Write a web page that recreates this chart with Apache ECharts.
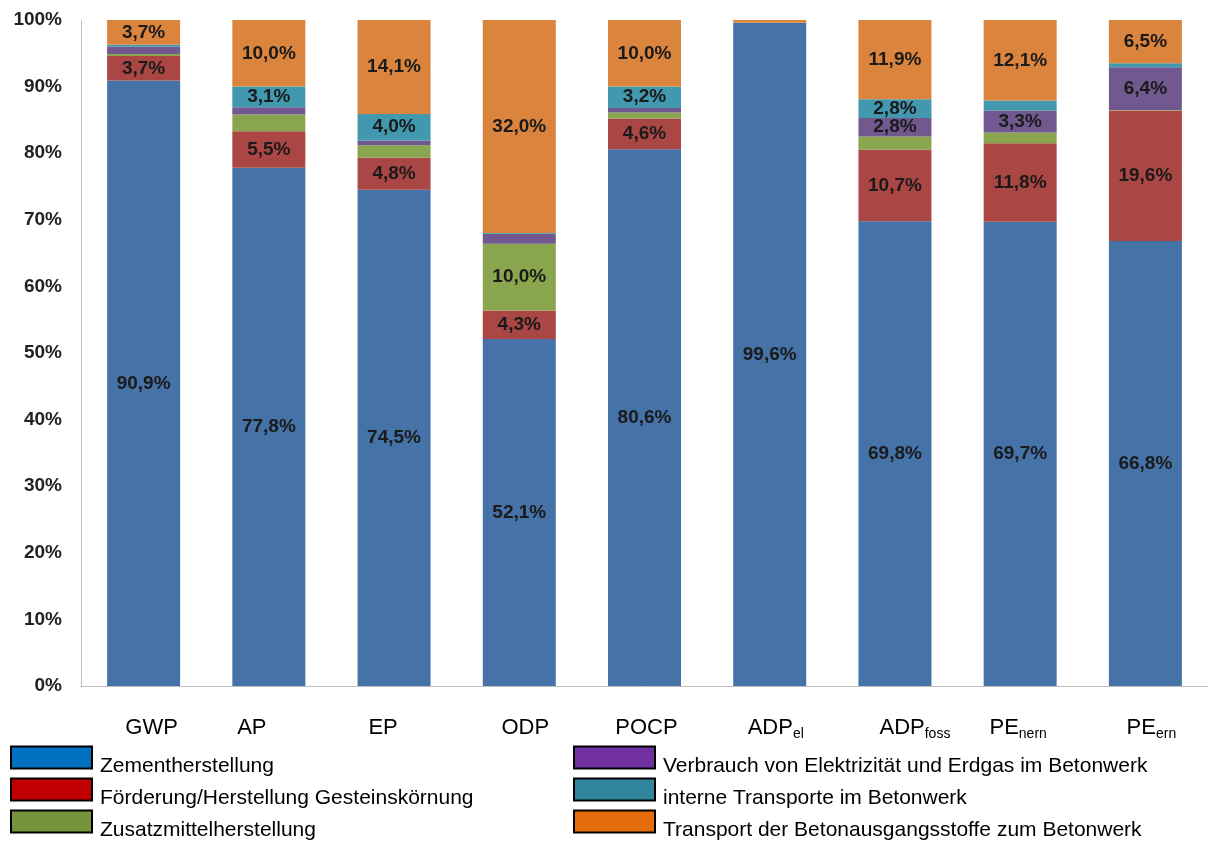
<!DOCTYPE html>
<html>
<head>
<meta charset="utf-8">
<script src="https://cdn.jsdelivr.net/npm/echarts@6/dist/echarts.min.js"></script>
<style>
html,body{margin:0;padding:0;background:#fff;}
#chart{width:1208px;height:841px;}
</style>
</head>
<body>
<div id="chart"></div>
<script>
// ---- data ----
const categories = ['GWP', 'AP', 'EP', 'ODP', 'POCP', 'ADP_el', 'ADP_foss', 'PE_nern', 'PE_ern'];
const seriesNames = [
  'Zementherstellung',
  'Förderung/Herstellung Gesteinskörnung',
  'Zusatzmittelherstellung',
  'Verbrauch von Elektrizität und Erdgas im Betonwerk',
  'interne Transporte im Betonwerk',
  'Transport der Betonausgangsstoffe zum Betonwerk'
];
const zement      = [90.9, 77.8, 74.5, 52.1, 80.6, 99.6, 69.8, 69.7, 66.8];
const foerderung  = [3.7, 5.5, 4.8, 4.3, 4.6, 0.0, 10.7, 11.8, 19.6];
const zusatz      = [0.3, 2.5, 1.9, 10.0, 0.9, 0.0, 2.0, 1.6, 0.1];
const verbrauch   = [1.1, 1.1, 0.7, 1.5, 0.7, 0.0, 2.8, 3.3, 6.4];
const intern      = [0.3, 3.1, 4.0, 0.1, 3.2, 0.0, 2.8, 1.5, 0.6];
const transport   = [3.7, 10.0, 14.1, 32.0, 10.0, 0.4, 11.9, 12.1, 6.5];
const yTickLabels = ['0%', '10%', '20%', '30%', '40%', '50%', '60%', '70%', '80%', '90%', '100%'];

// ---- styles ----
const seriesValues = [zement, foerderung, zusatz, verbrauch, intern, transport];
const barColors = ['#4572A7', '#AA4643', '#89A54E', '#71588F', '#4198AF', '#DB843D'];
const legendColors = ['#0070C0', '#C00000', '#77933C', '#7030A0', '#31859C', '#E46C0A'];
const labelShift = [8, -17, -11, 6, 2, 6, 20, -2, 6];
const FONT = '"Liberation Sans", Arial, sans-serif';

const rich = {};
categories.forEach((c, i) => {
  const s = labelShift[i];
  const hasSub = c.indexOf('_') >= 0;
  const mainPad = [0, (!hasSub && s < 0) ? -2 * s : 0, 0, s > 0 ? 2 * s : 0];
  const subPad = [0, s < 0 ? -2 * s : 0, 0, 0];
  rich['m' + i] = { fontSize: 22, fontFamily: FONT, color: '#000', lineHeight: 26, padding: mainPad };
  rich['s' + i] = { fontSize: 14, fontFamily: FONT, color: '#000', lineHeight: 26, verticalAlign: 'bottom', padding: subPad };
});

const chart = echarts.init(document.getElementById('chart'));

const series = seriesNames.map((name, k) => ({
  name: name,
  type: 'bar',
  stack: 'total',
  barWidth: 73,
  data: seriesValues[k],
  itemStyle: { color: barColors[k] },
  label: {
    show: true,
    position: 'inside',
    fontFamily: FONT,
    fontWeight: 'bold',
    fontSize: 19,
    color: '#1a1a1a',
    formatter: p => p.value >= 2.6 ? p.value.toFixed(1).replace('.', ',') + '%' : ''
  }
}));

function legendCfg(left, idxs) {
  return {
    orient: 'vertical',
    left: left,
    top: 738,
    height: 140,
    padding: 0,
    itemWidth: 81,
    itemHeight: 22,
    itemGap: -7,
    icon: 'rect',
    selectedMode: false,
    itemStyle: { borderColor: '#000', borderWidth: 2 },
    formatter: name => '{t|' + name + '}',
    textStyle: {
      fontFamily: FONT, fontSize: 21, color: '#000',
      rich: { t: { fontFamily: FONT, fontSize: 21, color: '#000', lineHeight: 22, padding: [18, 0, 0, 3] } }
    },
    data: idxs.map(i => ({ name: seriesNames[i], itemStyle: { color: legendColors[i], borderColor: '#000', borderWidth: 2 } }))
  };
}

chart.setOption({
  animation: false,
  backgroundColor: '#fff',
  grid: { left: 81, right: -5, top: 20, bottom: 155, containLabel: false },
  legend: [legendCfg(10, [0, 1, 2]), legendCfg(573, [3, 4, 5])],
  xAxis: {
    type: 'category',
    data: categories,
    axisTick: { show: false },
    axisLine: { lineStyle: { color: '#bfbfbf', width: 1 } },
    axisLabel: {
      margin: 29,
      interval: 0,
      formatter: (v, i) => {
        const parts = v.split('_');
        let s = '{m' + i + '|' + parts[0] + '}';
        if (parts[1]) s += '{s' + i + '|' + parts[1] + '}';
        return s;
      },
      rich: rich
    }
  },
  yAxis: {
    type: 'value',
    min: 0,
    max: 100,
    interval: 10,
    splitLine: { show: false },
    axisTick: { show: false },
    axisLine: { show: true, lineStyle: { color: '#bfbfbf', width: 1 } },
    axisLabel: {
      margin: 19,
      fontFamily: FONT,
      fontWeight: 'bold',
      fontSize: 19,
      color: '#222',
      formatter: v => yTickLabels[Math.round(v / 10)]
    }
  },
  series: series
});
</script>
</body>
</html>
